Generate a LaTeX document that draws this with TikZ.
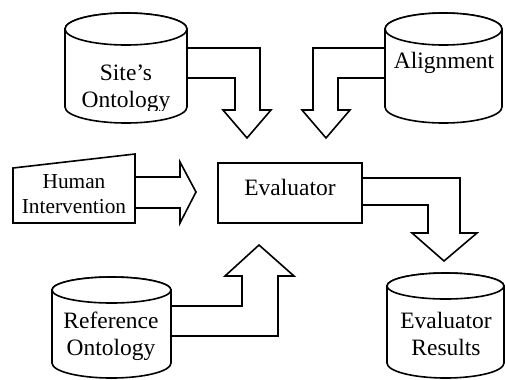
\documentclass[tikz,border=0pt]{standalone}
\usepackage{fontspec}
\setmainfont{Liberation Serif}

% cylinder: left, right, top-ellipse centre, bottom-ellipse centre, top ry, bottom ry
\newcommand\drum[6]{%
  \pgfmathsetmacro\drumcx{(#1+#2)/2}%
  \pgfmathsetmacro\drumrx{(#2-#1)/2}%
  \path[outline] (#1,-#3) -- (#1,-#4)
    arc[start angle=180,end angle=360,x radius=\drumrx*0.75pt,y radius=#6*0.75pt]
    -- (#2,-#3)
    arc[start angle=0,end angle=180,x radius=\drumrx*0.75pt,y radius=#5*0.75pt]
    -- cycle;
  \draw[outline] (\drumcx,-#3) ellipse[x radius=\drumrx*0.75pt,y radius=#5*0.75pt];
}

\begin{document}
\begin{tikzpicture}[x=0.75pt,y=0.75pt,
  outline/.style={draw=black,line width=1.2pt,line join=miter,fill=white},
  label/.style={font=\fontsize{17.6}{21}\selectfont,anchor=base,inner sep=0pt},
  smalllabel/.style={font=\fontsize{16}{19}\selectfont,anchor=base,inner sep=0pt}]
\useasboundingbox (0,0) rectangle (505,-379);

% data stores
\drum{65}{187}{29}{107}{16}{16}
\drum{385}{502}{29}{107}{16}{16}
\drum{387}{504}{286}{363}{13}{15}
\drum{52}{171}{290}{363}{13}{15}

% manual input (human)
\draw[outline] (13,-168) -- (135,-154) -- (135,-223) -- (13,-223) -- cycle;

% evaluator process box
\draw[outline] (218,-163) rectangle (362,-223);

% block arrows
\draw[outline] (187,-48) -- (260,-48) -- (260,-110) -- (271,-110) -- (247,-138)
  -- (223,-110) -- (235,-110) -- (235,-78) -- (187,-78) -- cycle;
\draw[outline] (385,-48) -- (313,-48) -- (313,-110) -- (302,-110) -- (326,-138)
  -- (350,-110) -- (338,-110) -- (338,-78) -- (385,-78) -- cycle;
\draw[outline] (135,-177) -- (180,-177) -- (180,-162) -- (196,-192)
  -- (180,-223) -- (180,-208) -- (135,-208) -- cycle;
\draw[outline] (362,-178) -- (460,-178) -- (460,-233) -- (477,-233) -- (444,-261)
  -- (412,-233) -- (428,-233) -- (428,-205) -- (362,-205) -- cycle;
\draw[outline] (171,-306) -- (242,-306) -- (242,-276) -- (225,-276) -- (259,-245)
  -- (294,-276) -- (278,-276) -- (278,-336) -- (171,-336) -- cycle;

% texts
\node[label] (site1) at (126,-80) {Site’s};
\begin{scope}
  \clip (60,-60) rectangle (190,-110);
  \node[label] (site2) at (126,-107) {Ontology};
\end{scope}
\node[label] (align) at (444,-68) {Alignment};
\node[smalllabel] (human1) at (74,-188) {Human};
\node[smalllabel] (human2) at (74,-213) {Intervention};
\node[label] (eval) at (290,-195) {Evaluator};
\node[label] (ref1) at (111,-328) {Reference};
\node[label] (ref2) at (111,-355) {Ontology};
\node[label] (res1) at (446,-328) {Evaluator};
\node[label] (res2) at (446,-355) {Results};
\end{tikzpicture}
\end{document}
